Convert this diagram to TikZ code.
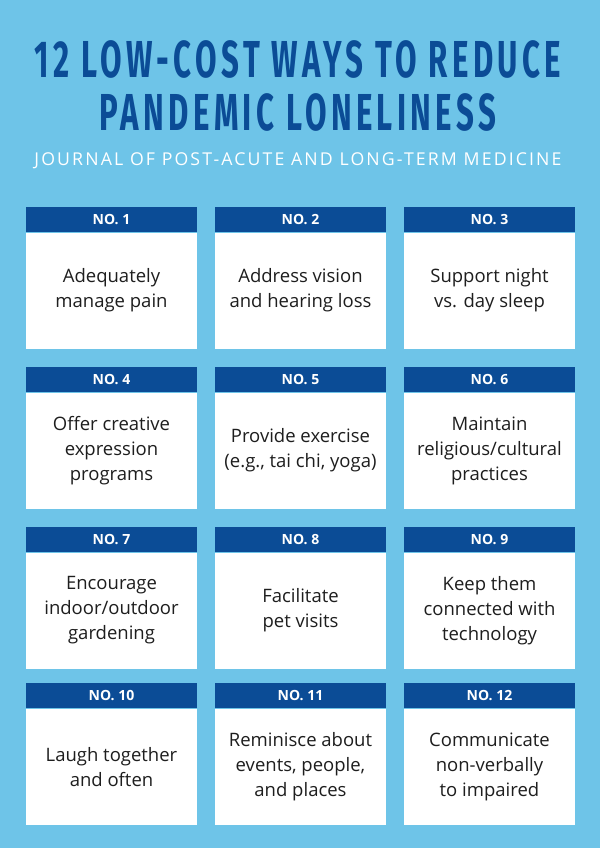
\documentclass[tikz,border=0pt]{standalone}
\usepackage{fontspec}
\setmainfont{Open Sans}
\newfontfamily\titlefont{Fira Sans}
\usepackage{graphicx}
\definecolor{bg}{HTML}{6EC4E8}
\definecolor{navy}{HTML}{0B4C96}
\definecolor{txt}{HTML}{1E1E1E}
\begin{document}
\begin{tikzpicture}[x=1pt,y=-1pt,
  hdr/.style={fill=navy,draw=none,minimum width=171pt,minimum height=25pt,inner sep=0,text=white,font=\fontsize{14}{16}\selectfont\bfseries},
  body/.style={fill=white,draw=none,minimum width=171pt,minimum height=116pt,inner sep=0},
  lbl/.style={text=txt,align=center,font=\fontsize{18.5}{25}\selectfont}]
\fill[bg] (0,0) rectangle (600,848);
\useasboundingbox (0,0) rectangle (600,848);
\node[text=navy,inner sep=0] (t1) at (300,59) {\scalebox{0.6}[1]{\fontsize{52}{52}\titlefont\addfontfeature{LetterSpace=14}\textbf{12 LOW-COST WAYS TO REDUCE}}};
\node[text=navy,inner sep=0] (t2) at (300,112) {\scalebox{0.6}[1]{\fontsize{52}{52}\titlefont\addfontfeature{LetterSpace=14}\textbf{PANDEMIC LONELINESS}}};
\node[text=white] (st) at (298,161) {\resizebox{527pt}{!}{\fontsize{14}{16}\selectfont\addfontfeature{LetterSpace=12}JOURNAL OF POST-ACUTE AND LONG-TERM MEDICINE}};
\foreach \r/\hy in {0/207,1/367,2/527,3/683}{
  \foreach \c/\cx in {1/111.5,2/300.5,3/489.5}{
    \pgfmathtruncatemacro{\n}{\r*3+\c}
    \node[hdr,anchor=north] (h\n) at (\cx,\hy) {NO. \n};
    \node[body,anchor=north] (b\n) at (h\n.south) {};
  }
}
\node[lbl] (c1) at (b1) {Adequately\\manage pain};
\node[lbl] (c2) at (b2) {Address vision\\and hearing loss};
\node[lbl] (c3) at (b3) {Support night\\vs. day sleep};
\node[lbl] (c4) at (b4) {Offer creative\\expression\\programs};
\node[lbl] (c5) at (b5) {Provide exercise\\(e.g., tai chi, yoga)};
\node[lbl] (c6) at (b6) {Maintain\\religious/cultural\\practices};
\node[lbl] (c7) at (b7) {Encourage\\indoor/outdoor\\gardening};
\node[lbl] (c8) at (b8) {Facilitate\\pet visits};
\node[lbl] (c9) at (b9) {Keep them\\connected with\\technology};
\node[lbl] (c10) at (b10) {Laugh together\\and often};
\node[lbl] (c11) at (b11) {Reminisce about\\events, people,\\and places};
\node[lbl] (c12) at (b12) {Communicate\\non-verbally\\to impaired};
\end{tikzpicture}
\end{document}
